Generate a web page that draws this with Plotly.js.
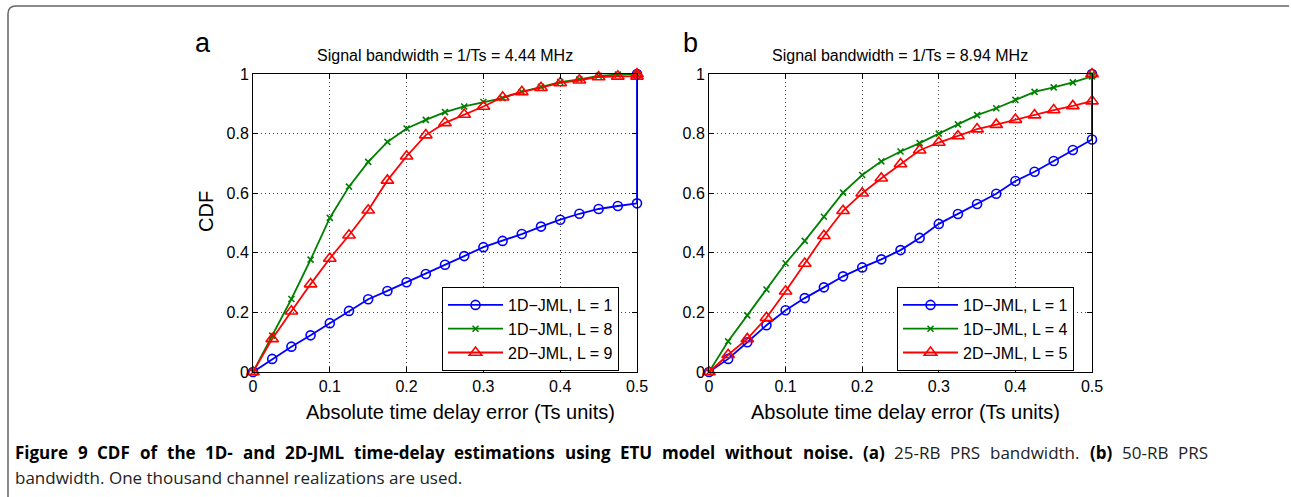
<!DOCTYPE html>
<html>
<head>
<meta charset="utf-8">
<script src="https://cdn.plot.ly/plotly-3.0.1.min.js"></script>
<style>
html,body{margin:0;padding:0;background:#fff;}
#chart{width:1291px;height:497px;}
</style>
</head>
<body>
<div id="chart"></div>
<script>
// ---- data ----
var xErr = [0,0.025,0.05,0.075,0.1,0.125,0.15,0.175,0.2,0.225,0.25,0.275,0.3,0.325,0.35,0.375,0.4,0.425,0.45,0.475,0.5,0.5];

// Panel (a): 25-RB PRS, 1/Ts = 4.44 MHz
var a_1D_L1 = [0,0.044,0.085,0.123,0.164,0.205,0.244,0.272,0.301,0.329,0.360,0.389,0.419,0.440,0.463,0.488,0.511,0.531,0.547,0.557,0.566,1.0];
var a_1D_L8 = [0,0.122,0.245,0.377,0.517,0.622,0.705,0.772,0.817,0.846,0.872,0.891,0.906,0.919,0.940,0.957,0.973,0.982,0.994,0.998,1.0,1.0];
var a_2D_L9 = [0,0.111,0.204,0.295,0.381,0.459,0.543,0.643,0.724,0.795,0.836,0.864,0.891,0.922,0.940,0.954,0.970,0.979,0.990,0.992,0.992,1.0];

// Panel (b): 50-RB PRS, 1/Ts = 8.94 MHz
var b_1D_L1 = [0,0.044,0.100,0.157,0.207,0.248,0.284,0.321,0.351,0.378,0.409,0.450,0.497,0.530,0.564,0.598,0.641,0.672,0.708,0.745,0.780,1.0];
var b_1D_L4 = [0,0.103,0.190,0.277,0.365,0.440,0.521,0.602,0.661,0.707,0.740,0.768,0.800,0.831,0.862,0.885,0.913,0.940,0.955,0.972,0.992,1.0];
var b_2D_L5 = [0,0.058,0.111,0.182,0.271,0.364,0.457,0.541,0.600,0.650,0.698,0.744,0.770,0.792,0.815,0.830,0.847,0.862,0.879,0.893,0.909,1.0];

var namesA = ["1D\u2212JML, L = 1","1D\u2212JML, L = 8","2D\u2212JML, L = 9"];
var namesB = ["1D\u2212JML, L = 1","1D\u2212JML, L = 4","2D\u2212JML, L = 5"];
var titleA = "Signal bandwidth = 1/Ts = 4.44 MHz";
var titleB = "Signal bandwidth = 1/Ts = 8.94 MHz";
var xTitle = "Absolute time delay error (Ts units)";
var yTitle = "CDF";
var xTickVals = [0,0.1,0.2,0.3,0.4,0.5];
var xTickText = ["0","0.1","0.2","0.3","0.4","0.5"];
var yTickVals = [0,0.2,0.4,0.6,0.8,1];
var yTickText = ["0","0.2","0.4","0.6","0.8","1"];
// caption line 1 (justified), as [text, bold] segments; line 2 left aligned
var captionLine1 = [
  ["Figure 9 CDF of the 1D- and 2D-JML time-delay estimations using ETU model without noise. (a)", true],
  ["25-RB PRS bandwidth.", false],
  ["(b)", true],
  ["50-RB PRS", false]
];
var captionLine2 = "bandwidth. One thousand channel realizations are used.";

// ---- styling ----
var W = 1291, H = 497;
function px(x){return x/W;}
function py(y){return 1 - y/H;}
var FONT = "Liberation Sans, Arial, Helvetica, sans-serif";
var CAPFONT = "Open Sans";
var CAP_REG = 17, CAP_BOLD = 17;
var styles = [
  {color:"#0000ff", symbol:"circle-open", size:9},
  {color:"#008000", symbol:"x-thin", size:6},
  {color:"#ff0000", symbol:"triangle-up-open", size:11}
];

function mk(y, i, name, xa, ya, leg){
  var s = styles[i];
  return {
    x: xErr, y: y, name: name, type: "scatter", mode: "lines+markers",
    xaxis: xa, yaxis: ya, legend: leg, cliponaxis: false,
    line: {color: s.color, width: 1.8},
    marker: {symbol: s.symbol, size: s.size, color: s.color, line: {color: s.color, width: 1.6}}
  };
}

var traces = [
  mk(a_1D_L1,0,namesA[0],"x","y","legend"),
  mk(a_1D_L8,1,namesA[1],"x","y","legend"),
  mk(a_2D_L9,2,namesA[2],"x","y","legend"),
  mk(b_1D_L1,0,namesB[0],"x2","y2","legend2"),
  mk(b_1D_L4,1,namesB[1],"x2","y2","legend2"),
  mk(b_2D_L5,2,namesB[2],"x2","y2","legend2")
];

function axisBase(){
  return {ticks:"inside", ticklen:5, tickcolor:"#000", showline:true, linecolor:"#000", linewidth:1, mirror:"allticks",
    showgrid:true, gridcolor:"#444", griddash:"1px,3px", gridwidth:1, zeroline:false,
    tickfont:{family:FONT,size:16,color:"#000"}, fixedrange:true};
}
function xax(dom, anchor){
  var a = axisBase();
  a.domain = dom; a.anchor = anchor; a.range = [0,0.5];
  a.tickmode = "array"; a.tickvals = xTickVals; a.ticktext = xTickText;
  return a;
}
function yax(dom, anchor){
  var a = axisBase();
  a.domain = dom; a.anchor = anchor; a.range = [0,1];
  a.tickmode = "array"; a.tickvals = yTickVals; a.ticktext = yTickText;
  return a;
}

var yDom = [py(372), py(74)];
var legStyle = function(x, y){
  return {x:x, y:y, xref:"paper", yref:"paper", xanchor:"left", yanchor:"middle",
    bgcolor:"#fff", bordercolor:"#000", borderwidth:1, itemwidth:55,
    font:{family:FONT,size:16,color:"#000"}, tracegroupgap:0, itemclick:false, itemdoubleclick:false};
};

function ann(text, x, y, sz, extra){
  var o = {text:text, x:px(x), y:py(y), xref:"paper", yref:"paper", xanchor:"center", yanchor:"middle",
    showarrow:false, font:{family:FONT,size:sz,color:"#000"}};
  if (extra) for (var k in extra) o[k] = extra[k];
  return o;
}

// justified caption line 1: measure words and spread them between x0 and x1
function justifiedLine(segs, x0, x1, y){
  var cv = document.createElement("canvas").getContext("2d");
  var words = [];
  segs.forEach(function(s){
    s[0].split(" ").forEach(function(w){ if (w.length) words.push({t:w, b:s[1]}); });
  });
  var total = 0;
  words.forEach(function(w){
    cv.font = (w.b ? "bold " : "") + (w.b ? CAP_BOLD : CAP_REG) + "px '" + CAPFONT + "'";
    w.w = cv.measureText(w.t).width; total += w.w;
  });
  var gap = (x1 - x0 - total) / (words.length - 1);
  var out = [], x = x0;
  words.forEach(function(w){
    out.push({text: w.b ? "<b>"+w.t+"</b>" : w.t, x:px(x), y:py(y), xref:"paper", yref:"paper",
      xanchor:"left", yanchor:"middle", showarrow:false, borderpad:0,
      font:{family:CAPFONT, size:(w.b ? CAP_BOLD : CAP_REG), color:(w.b ? "#000" : "#222")}});
    x += w.w + gap;
  });
  return out;
}

var annotations = [
  ann("a", 203, 43, 27),
  ann("b", 690, 43, 27),
  ann(titleA, 445, 56, 16),
  ann(titleB, 900, 56, 16),
  ann(xTitle, 460, 412, 20),
  ann(xTitle, 905, 412, 20),
  ann(yTitle, 206, 212, 20, {textangle:-90}),
  {text:captionLine2, x:px(14), y:py(477), xref:"paper", yref:"paper", xanchor:"left", yanchor:"middle",
    align:"left", showarrow:false, borderpad:0, font:{family:CAPFONT,size:CAP_REG,color:"#222"}}
].concat(justifiedLine(captionLine1, 14, 1207, 452));

var layout = {
  width: W, height: H,
  margin: {l:0, r:0, t:0, b:0},
  paper_bgcolor:"#fff", plot_bgcolor:"#fff",
  showlegend: true,
  xaxis: xax([px(253), px(637)], "y"),
  yaxis: yax(yDom, "x"),
  xaxis2: xax([px(709), px(1092)], "y2"),
  yaxis2: yax(yDom, "x2"),
  legend: legStyle(px(442), py(329)),
  legend2: legStyle(px(897), py(329)),
  annotations: annotations,
  shapes: [
    {type:"path", xref:"paper", yref:"paper",
     path:"M "+px(8)+","+py(497)+" L "+px(8)+","+py(14)+" Q "+px(8)+","+py(6)+" "+px(16)+","+py(6)+" L "+px(1289)+","+py(6),
     line:{color:"#666", width:1.5}}
  ]
};

Plotly.newPlot("chart", traces, layout, {staticPlot:true, displayModeBar:false});
</script>
</body>
</html>
